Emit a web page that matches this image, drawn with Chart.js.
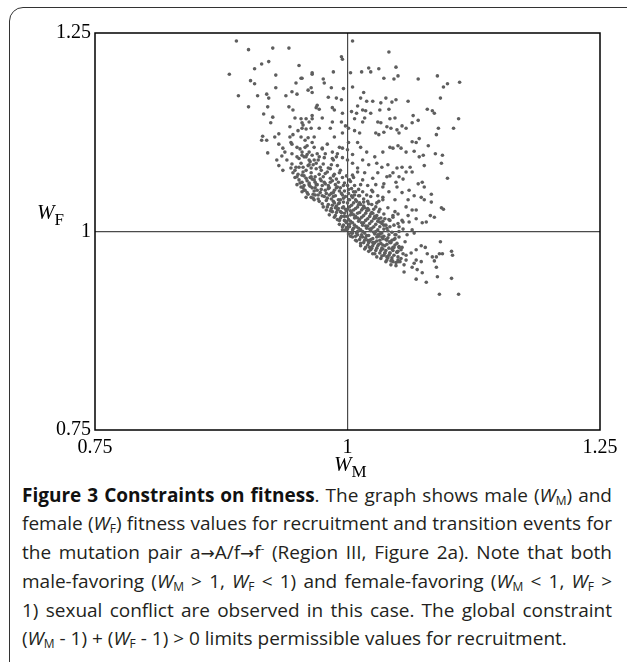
<!DOCTYPE html>
<html>
<head>
<meta charset="utf-8">
<script src="https://cdn.jsdelivr.net/npm/chart.js@4.4.0/dist/chart.umd.min.js"></script>
<style>
  html, body { margin: 0; padding: 0; background: #fff; }
  body { width: 627px; height: 662px; position: relative; overflow: hidden; }
  .frame {
    position: absolute; left: 9px; top: 7px; width: 640px; height: 680px;
    border: 1.5px solid #333; border-radius: 14px; box-sizing: border-box;
  }
  #chart-box { position: absolute; left: 0; top: 0; width: 627px; height: 480px; }
  .axis-title {
    position: absolute; font-family: 'Liberation Serif', 'Times New Roman', serif;
    font-size: 21px; color: #000; line-height: 1;
  }
  .axis-title i { font-style: italic; }
  .axis-title .sub { font-size: 17px; position: relative; top: 6px; }
  .caption {
    position: absolute; left: 22px; top: 481px; width: 590px;
    font-family: 'Open Sans', sans-serif; font-size: 19px; line-height: 28.4px; color: #231f20;
  }
  .caption .ln { white-space: nowrap; text-align: justify; text-align-last: justify; }
  .caption .ln.last { text-align-last: left; }
  .caption b { color: #111; }
  .caption sub { font-size: 12px; vertical-align: -3px; line-height: 0; }
  .caption sup { font-size: 11px; vertical-align: 7px; line-height: 0; }
  .caption .arr { font-family: 'DejaVu Sans', sans-serif; font-size: 17px; }
</style>
</head>
<body>
<div class="frame"></div>
<div id="chart-box"><canvas id="fitness-chart"></canvas></div>
<div class="axis-title" style="left:37px; top:202px;"><i>W</i><span class="sub">F</span></div>
<div class="axis-title" style="left:334px; top:454px;"><i>W</i><span class="sub">M</span></div>
<div class="caption">
  <div class="ln"><b>Figure 3 Constraints on fitness</b>. The graph shows male (<i>W</i><sub>M</sub>) and</div>
  <div class="ln">female (<i>W</i><sub>F</sub>) fitness values for recruitment and transition events for</div>
  <div class="ln">the mutation pair a<span class="arr">&rarr;</span>A/f<span class="arr">&rarr;</span>f<sup>-</sup> (Region III, Figure 2a). Note that both</div>
  <div class="ln">male-favoring (<i>W</i><sub>M</sub> &gt; 1, <i>W</i><sub>F</sub> &lt; 1) and female-favoring (<i>W</i><sub>M</sub> &lt; 1, <i>W</i><sub>F</sub> &gt;</div>
  <div class="ln">1) sexual conflict are observed in this case. The global constraint</div>
  <div class="ln last">(<i>W</i><sub>M</sub> - 1) + (<i>W</i><sub>F</sub> - 1) &gt; 0 limits permissible values for recruitment.</div>
</div>
<script>
// axis ticks
const xTicks = [0.75, 1, 1.25];
const yTicks = [0.75, 1, 1.25];
const xTickLabels = ['0.75', '1', '1.25'];
const yTickLabels = ['0.75', '1', '1.25'];

// sparse points in the upper part of the cloud, [W_M, W_F]
const upperPoints = [
  [0.890,1.240],[0.902,1.229],[0.926,1.231],[0.942,1.231],[0.883,1.198],[0.908,1.205],[0.915,1.211],[0.922,1.214],
  [0.952,1.209],[0.929,1.197],[0.965,1.198],[0.904,1.190],[0.908,1.186],[0.954,1.193],[0.949,1.187],[0.929,1.181],
  [0.892,1.171],[0.911,1.171],[0.920,1.173],[0.922,1.168],[0.939,1.171],[0.945,1.176],[0.950,1.173],[0.961,1.178],
  [0.965,1.175],[0.902,1.157],[0.921,1.157],[0.942,1.157],[0.946,1.153],[0.969,1.156],[0.917,1.148],[0.926,1.144],
  [0.924,1.137],[0.948,1.143],[0.954,1.142],[0.959,1.142],[0.965,1.142],[0.943,1.132],[0.956,1.134],[0.951,1.127],
  [0.959,1.129],[0.964,1.130],[0.916,1.120],[0.920,1.115],[0.928,1.119],[0.932,1.123],[0.943,1.119],[0.946,1.122],
  [0.954,1.119],[0.961,1.118],[0.967,1.119],[0.915,1.115],[0.932,1.110],[0.936,1.105],[0.945,1.110],[0.950,1.106],
  [0.958,1.106],[0.965,1.112],[0.921,1.099],[0.945,1.098],[0.950,1.094],[0.955,1.096],[0.959,1.094],[0.965,1.096],
  [0.930,1.090],[0.932,1.083],[0.936,1.077],[0.944,1.080],[0.948,1.077],[0.952,1.081],[0.956,1.081],[0.962,1.084],
  [0.950,1.069],[0.952,1.065],[0.955,1.062],[0.959,1.067],[0.964,1.069],[0.967,1.065],[0.950,1.059],[0.954,1.056],
  [0.957,1.052],[0.962,1.059],[0.965,1.055],[0.969,1.059],[0.955,1.050],[0.960,1.049],[0.964,1.043],[0.968,1.046],
  [0.959,1.043],[0.967,1.040],
  [1.005,1.240],[1.041,1.226],[0.994,1.220],[0.995,1.217],[1.021,1.206],[1.031,1.205],[1.048,1.207],[1.003,1.200],
  [1.014,1.201],[1.023,1.201],[0.986,1.201],[0.965,1.200],[0.955,1.193],[1.089,1.196],[0.976,1.192],[1.036,1.193],
  [1.046,1.192],[1.050,1.196],[1.070,1.192],[1.111,1.188],[1.099,1.186],[1.095,1.182],[0.977,1.187],[0.984,1.181],
  [0.964,1.181],[0.996,1.180],[1.005,1.182],[1.016,1.175],[0.981,1.169],[0.989,1.168],[0.994,1.166],[1.013,1.168],
  [1.019,1.164],[1.025,1.164],[1.033,1.162],[1.038,1.168],[1.044,1.163],[1.048,1.166],[1.060,1.164],[1.092,1.168],
  [1.010,1.158],[1.004,1.151],[1.015,1.153],[1.018,1.152],[1.032,1.153],[1.041,1.154],[1.079,1.154],[1.084,1.152],
  [1.086,1.149],[1.110,1.142],[0.970,1.159],[0.972,1.154],[0.985,1.156],[0.987,1.153],[0.995,1.149],[1.009,1.149],
  [1.023,1.149],[0.965,1.146],[0.975,1.143],[0.955,1.137],[0.962,1.138],[0.985,1.138],[0.994,1.138],[1.007,1.142],
  [1.015,1.138],[1.017,1.143],[1.030,1.138],[1.033,1.137],[1.042,1.142],[1.047,1.143],[1.054,1.133],[1.058,1.130],
  [1.064,1.137],[1.065,1.146],[1.070,1.140],[1.039,1.132],[1.043,1.130],[1.028,1.124],[1.031,1.122],[1.036,1.125],
  [1.049,1.128],[1.051,1.124],[0.998,1.133],[1.001,1.130],[1.007,1.127],[1.012,1.124],[0.995,1.124],[0.987,1.119],
  [0.983,1.130],[0.972,1.130],[0.955,1.130],[1.090,1.130],[1.105,1.130],[1.088,1.122],[1.071,1.117],[1.080,1.108],
  [1.064,1.113],[1.068,1.112],[1.050,1.108],[1.053,1.105],[1.058,1.100],[1.066,1.101],[1.071,1.094],[1.075,1.096],
  [1.087,1.098],[1.094,1.096],[1.093,1.086],[1.099,1.067],[1.042,1.106],[1.045,1.105],[1.035,1.100],[1.027,1.094],
  [1.019,1.100],[1.015,1.090],[1.013,1.106],[1.010,1.112],[1.001,1.112],[1.000,1.103],[0.992,1.106],[0.985,1.100],
  [0.975,1.105],[0.967,1.106],[0.960,1.108],[0.955,1.100],[0.972,1.094],[0.989,1.094],[0.995,1.093],[1.005,1.086],
  [1.021,1.084],[1.029,1.086],[1.034,1.081],[1.040,1.084],[1.049,1.080],[1.054,1.081],[1.058,1.075],[1.062,1.081],
  [1.076,1.083],[1.045,1.074],[1.051,1.069],[1.039,1.069],[1.030,1.074],[1.025,1.067],[1.017,1.074],[1.010,1.075],
  [1.005,1.071],[1.002,1.065],[1.074,1.062],[1.076,1.056],[1.061,1.052],[1.049,1.056],[1.054,1.049],[1.073,1.043],
  [1.083,1.047],[1.076,1.040],[1.083,1.037],[1.041,1.050],[1.035,1.056],[1.028,1.059],[1.024,1.052],[1.035,1.043],
  [1.047,1.040],[1.029,1.036],[1.058,1.031],[1.064,1.027],[1.068,1.027],[1.093,1.030],[1.095,1.028],[1.082,1.020],
  [1.086,1.018],[1.078,1.012],[1.074,1.011],[1.068,1.016],[1.061,1.012],[1.054,1.014],[1.050,1.022],[1.047,1.025],
  [1.045,1.018],[1.042,1.014],[1.051,1.006],[1.055,1.003],[1.064,1.002],[1.066,0.998]
];

// dense band just above the constraint line
const corePoints = [
  [0.958,1.052],[0.963,1.057],[0.960,1.064],[0.957,1.070],[0.964,1.074],[0.961,1.083],[0.966,1.047],[0.968,1.055],
  [0.965,1.066],[0.969,1.079],[0.962,1.090],[0.971,1.041],[0.973,1.049],[0.970,1.059],[0.974,1.064],[0.972,1.072],
  [0.969,1.086],[0.975,1.035],[0.977,1.044],[0.974,1.053],[0.978,1.060],[0.976,1.069],[0.973,1.081],[0.977,1.093],
  [0.980,1.031],[0.979,1.039],[0.982,1.046],[0.978,1.052],[0.981,1.058],[0.983,1.067],[0.980,1.075],[0.984,1.084],
  [0.983,1.026],[0.985,1.033],[0.984,1.041],[0.987,1.036],[0.986,1.049],[0.982,1.055],[0.988,1.059],[0.985,1.064],
  [0.987,1.072],[0.983,1.079],[0.986,1.090],[0.988,1.020],[0.990,1.027],[0.989,1.032],[0.991,1.040],[0.988,1.045],
  [0.992,1.051],[0.990,1.056],[0.989,1.066],[0.992,1.074],[0.990,1.083],[0.992,1.014],[0.994,1.019],[0.993,1.025],
  [0.995,1.030],[0.992,1.036],[0.996,1.042],[0.994,1.048],[0.993,1.055],[0.997,1.061],[0.995,1.068],[0.993,1.077],
  [0.996,1.008],[0.998,1.013],[0.997,1.019],[0.999,1.026],[0.996,1.031],[1.000,1.036],[0.998,1.044],[0.997,1.051],
  [1.000,1.058],[0.999,1.070],[1.000,1.003],[1.002,1.009],[1.001,1.015],[1.003,1.021],[1.000,1.028],[1.004,1.033],
  [1.002,1.040],[1.001,1.048],[1.004,1.054],[1.003,1.063],[1.004,0.998],[1.006,1.004],[1.005,1.011],[1.007,1.017],
  [1.004,1.024],[1.008,1.029],[1.006,1.036],[1.005,1.043],[1.008,1.050],[1.007,1.058],[1.006,1.068],[1.008,0.994],
  [1.010,1.000],[1.009,1.006],[1.011,1.013],[1.008,1.019],[1.012,1.024],[1.010,1.031],[1.009,1.038],[1.012,1.045],
  [1.011,1.053],[1.012,0.990],[1.014,0.996],[1.013,1.002],[1.015,1.008],[1.012,1.015],[1.016,1.020],[1.014,1.027],
  [1.013,1.034],[1.016,1.041],[1.015,1.050],[1.013,1.059],[1.016,0.986],[1.018,0.992],[1.017,0.998],[1.019,1.004],
  [1.016,1.011],[1.020,1.016],[1.018,1.023],[1.017,1.030],[1.020,1.038],[1.019,1.046],[1.020,0.983],[1.022,0.988],
  [1.021,0.995],[1.023,1.001],[1.020,1.007],[1.024,1.013],[1.022,1.019],[1.021,1.027],[1.024,1.034],[1.023,1.044],
  [1.024,0.979],[1.026,0.985],[1.025,0.991],[1.027,0.997],[1.024,1.004],[1.028,1.009],[1.026,1.016],[1.025,1.023],
  [1.028,1.031],[1.028,0.976],[1.030,0.982],[1.029,0.988],[1.031,0.994],[1.028,1.000],[1.032,1.006],[1.030,1.013],
  [1.029,1.020],[1.032,1.028],[1.031,1.038],[1.032,0.973],[1.034,0.979],[1.033,0.985],[1.035,0.991],[1.032,0.997],
  [1.036,1.003],[1.034,1.010],[1.033,1.017],[1.036,0.970],[1.038,0.976],[1.037,0.982],[1.039,0.989],[1.036,0.994],
  [1.040,1.001],[1.038,1.008],[1.037,1.016],[1.040,0.967],[1.042,0.973],[1.041,0.979],[1.043,0.986],[1.040,0.992],
  [1.044,0.999],[1.042,1.006],[1.044,0.964],[1.046,0.970],[1.045,0.976],[1.047,0.983],[1.044,0.989],[1.048,0.996],
  [1.048,0.961],[1.050,0.968],[1.049,0.974],[1.051,0.981],[1.053,0.966],[1.055,0.972],
  [0.962,1.061],[0.967,1.051],[0.971,1.046],[0.975,1.058],[0.979,1.048],[0.981,1.034],[0.984,1.029],[0.986,1.044],
  [0.989,1.024],[0.991,1.035],[0.993,1.017],[0.995,1.046],[0.997,1.023],[0.999,1.011],[1.001,1.040],[1.002,1.006],
  [1.003,1.026],[1.005,1.002],[1.006,1.021],[1.007,1.046],[1.009,0.998],[1.010,1.017],[1.011,1.034],[1.013,0.993],
  [1.014,1.011],[1.015,1.029],[1.017,0.989],[1.018,1.007],[1.019,1.026],[1.021,0.986],[1.022,1.003],[1.023,1.022],
  [1.025,0.982],[1.026,0.999],[1.027,1.019],[1.029,0.979],[1.030,0.996],[1.031,1.016],[1.033,0.976],[1.034,0.993],
  [1.035,1.013],[1.037,0.973],[1.038,0.990],[1.039,1.004],[1.041,0.970],[1.042,0.987],[1.043,0.963],[1.046,0.980],
  [1.047,0.991],[1.050,0.975],[0.987,1.052],[0.983,1.062],[0.978,1.073],[0.974,1.077],[0.968,1.069],[0.964,1.080],
  [0.959,1.077],[0.955,1.071],[0.953,1.061],[0.957,1.058],[1.018,0.980],[1.023,0.977],[1.027,0.972],[1.034,0.969],
  [1.039,0.964],[1.013,0.985],[1.008,0.989],[1.003,0.994],[0.998,1.002],[0.995,1.006],
  [0.940,1.090],[0.945,1.085],[0.938,1.100],[0.952,1.092],[0.956,1.075],[0.948,1.068],[0.953,1.104],[0.944,1.112],
  [0.958,1.115],[0.935,1.095],[0.962,1.100],[0.967,1.090],[0.970,1.098],[0.975,1.104],[0.980,1.110],[0.978,1.098],
  [0.985,1.092],[0.990,1.098],[0.995,1.105],[1.000,1.090],[1.005,1.097],[1.010,1.080],[1.015,1.065],[1.020,1.058],
  [1.025,1.050],[1.030,1.045],[1.035,1.040],[1.040,1.030],[1.045,1.020],[1.050,1.010],[1.055,1.012],[1.060,1.020],
  [1.036,1.060],[1.042,1.070],[1.048,1.062],[1.055,1.066],[1.060,1.040],[1.066,1.045],[1.070,1.060],[1.064,1.075]
];

// extra fill of the darkest part of the band
const fillPoints = [
  [0.956,1.055],[0.961,1.047],[0.963,1.068],[0.966,1.042],[0.968,1.062],[0.970,1.052],[0.972,1.038],[0.973,1.066],
  [0.975,1.045],[0.976,1.031],[0.977,1.062],[0.979,1.027],[0.980,1.042],[0.981,1.054],[0.982,1.021],[0.984,1.048],
  [0.985,1.025],[0.986,1.038],[0.987,1.018],[0.988,1.030],[0.989,1.055],[0.990,1.015],[0.991,1.029],[0.992,1.009],
  [0.993,1.040],[0.994,1.024],[0.995,1.002],[0.996,1.037],[0.997,1.014],[0.998,1.028],[0.999,1.005],[1.000,1.019],
  [1.001,0.997],[1.002,1.031],[1.003,1.013],[1.004,1.045],[1.005,0.993],[1.006,1.027],[1.007,1.008],[1.008,1.040],
  [1.009,0.988],[1.010,1.023],[1.011,1.004],[1.012,1.036],[1.013,0.982],[1.014,1.018],[1.015,1.000],[1.016,1.032],
  [1.017,0.978],[1.018,1.014],[1.019,0.995],[1.020,1.029],[1.021,0.975],[1.022,1.010],[1.023,0.990],[1.024,1.024],
  [1.025,0.972],[1.026,1.006],[1.027,0.986],[1.028,1.017],[1.029,0.968],[1.030,1.002],[1.031,0.984],[1.032,1.012],
  [1.033,0.966],[1.034,0.998],[1.035,0.978],[1.036,1.008],[1.038,0.962],[1.039,0.984],[1.041,0.996],[1.043,0.958],
  [1.044,0.978],[1.046,0.990],[1.048,0.957],[1.049,0.985],[1.052,0.962],[1.053,0.977],[1.056,0.958],[1.058,0.970],
  [0.946,1.074],[0.949,1.081],[0.951,1.072],[0.954,1.086],[0.957,1.094],[0.960,1.097],[0.963,1.088],[0.966,1.084],
  [0.971,1.090],[0.976,1.085],[0.981,1.080],[0.986,1.070],[0.991,1.062],[0.996,1.058],[1.001,1.053],[1.006,1.050],
  [1.011,1.045],[1.016,1.037],[1.021,1.035],[1.026,1.028],[1.031,1.025],[1.036,1.022],[1.041,1.015],[1.046,1.008],
  [1.051,1.000]
];

// tail below W_F = 1 (male-favoring side)
const lowerPoints = [
  [1.092,0.987],[1.073,0.982],[1.077,0.980],[1.103,0.975],[1.104,0.970],[1.091,0.972],[1.094,0.972],[1.079,0.972],
  [1.063,0.973],[1.068,0.977],[1.088,0.968],[1.084,0.968],[1.086,0.963],[1.073,0.962],[1.068,0.964],[1.066,0.960],
  [1.058,0.964],[1.050,0.964],[1.045,0.962],[1.039,0.968],[1.037,0.973],[1.042,0.973],[1.049,0.974],[1.051,0.980],
  [1.054,0.980],[1.045,0.980],[1.042,0.986],[1.035,0.983],[1.032,0.989],[1.029,0.993],[1.059,0.996],[1.051,0.993],
  [1.047,0.996],[1.057,0.987],[1.064,0.955],[1.069,0.952],[1.056,0.949],[1.088,0.955],[1.074,0.948],[1.068,0.940],
  [1.078,0.936],[1.089,0.943],[1.103,0.941],[1.091,0.921],[1.110,0.921],[1.050,0.962],[1.044,0.967],[1.022,0.980],
  [1.025,0.986],[1.020,0.989],[1.015,0.993],[1.010,0.996],[1.005,0.998]
];

const pointColor = '#5e5e5e';
const serif = "'Liberation Serif', 'Times New Roman', serif";

function makeSet(points) {
  return {
    data: points.map(p => ({ x: p[0], y: p[1] })),
    pointRadius: 1.8,
    pointBackgroundColor: pointColor,
    pointBorderWidth: 0,
    showLine: false
  };
}

// only the W = 1 reference lines are drawn as grid lines
function gridColor(ctx) {
  return ctx.tick && ctx.tick.value === 1 ? '#4a4a4a' : 'rgba(0,0,0,0)';
}

// closed box around the plot area
const plotFrame = {
  id: 'plotFrame',
  afterDraw(chart) {
    const a = chart.chartArea;
    const c = chart.ctx;
    c.save();
    c.strokeStyle = '#000';
    c.lineWidth = 1.5;
    c.strokeRect(a.left, a.top, a.right - a.left, a.bottom - a.top);
    c.restore();
  }
};

const ctx = document.getElementById('fitness-chart').getContext('2d');
new Chart(ctx, {
  type: 'scatter',
  data: {
    datasets: [makeSet(upperPoints), makeSet(corePoints), makeSet(fillPoints), makeSet(lowerPoints)]
  },
  options: {
    responsive: true,
    maintainAspectRatio: false,
    animation: false,
    layout: { padding: { top: 33, right: 27, left: 0, bottom: 0 } },
    plugins: { legend: { display: false }, tooltip: { enabled: false } },
    scales: {
      x: {
        type: 'linear',
        min: 0.75,
        max: 1.25,
        afterBuildTicks: scale => { scale.ticks = xTicks.map(v => ({ value: v })); },
        afterFit: scale => { scale.height = 50; },
        ticks: {
          padding: 6,
          color: '#000',
          font: { family: serif, size: 20 },
          maxRotation: 0,
          callback: (v, i) => xTickLabels[i]
        },
        grid: { color: gridColor, lineWidth: 1.2, drawTicks: false },
        border: { display: false }
      },
      y: {
        type: 'linear',
        min: 0.75,
        max: 1.25,
        afterBuildTicks: scale => { scale.ticks = yTicks.map(v => ({ value: v })); },
        afterFit: scale => { scale.width = 95; },
        ticks: {
          padding: 4,
          color: '#000',
          font: { family: serif, size: 20 },
          callback: (v, i) => yTickLabels[i]
        },
        grid: { color: gridColor, lineWidth: 1.2, drawTicks: false },
        border: { display: false }
      }
    }
  },
  plugins: [plotFrame]
});
</script>
</body>
</html>
